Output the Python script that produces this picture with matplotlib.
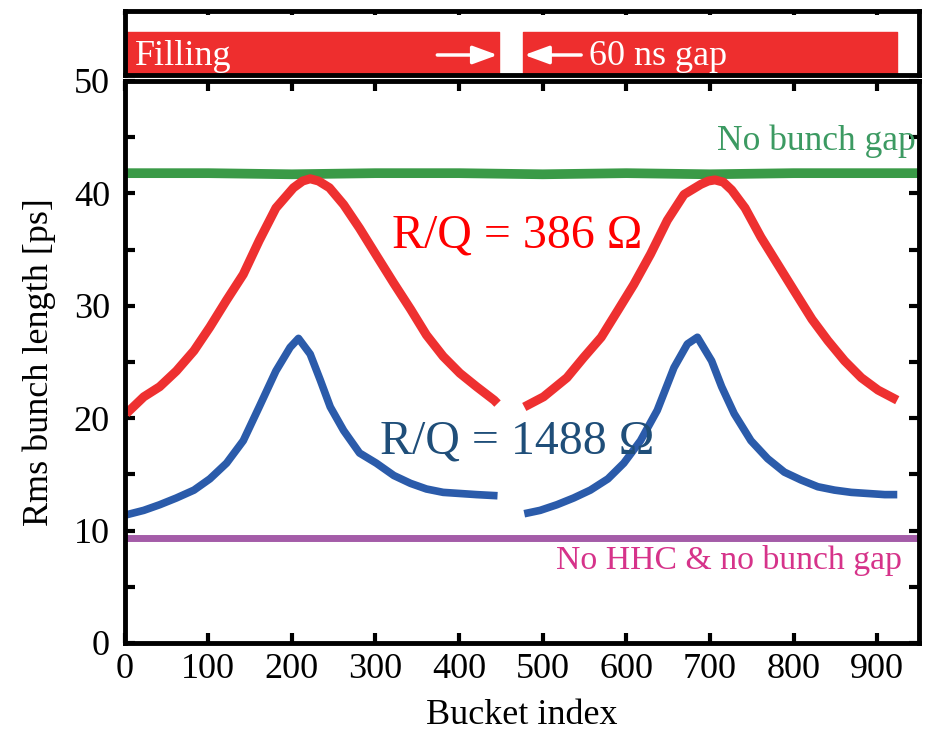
import numpy as np
import matplotlib.pyplot as plt

plt.rcParams['font.family'] = ['Liberation Serif', 'DejaVu Serif']

# ---- data ----
# R/Q = 386 Ohm (red), two bunch trains with a gap in between
red_left_x = [2, 23, 42, 62, 83, 102, 122, 142, 161, 181, 202, 213, 222, 232, 245, 262,
              281, 301, 322, 342, 361, 381, 401, 421, 442, 446]
red_left_y = [20.4, 21.9, 22.8, 24.2, 26.0, 28.1, 30.5, 32.8, 35.8, 38.7, 40.5, 41.1,
              41.3, 41.1, 40.5, 39.0, 36.9, 34.5, 32.0, 29.7, 27.4, 25.5, 24.0, 22.8,
              21.6, 21.3]
red_right_x = [478, 501, 529, 549, 570, 590, 609, 629, 649, 669, 689, 698, 706, 716, 726,
               742, 761, 781, 801, 822, 841, 861, 881, 901, 924]
red_right_y = [21.0, 21.9, 23.6, 25.4, 27.2, 29.6, 31.9, 34.6, 37.6, 39.9, 40.8, 41.1,
               41.2, 41.0, 40.3, 38.7, 36.1, 33.7, 31.3, 28.8, 26.9, 25.1, 23.6, 22.5,
               21.6]

# R/Q = 1488 Ohm (blue)
blue_left_x = [2, 23, 42, 62, 83, 102, 122, 142, 161, 181, 198, 208, 222, 234, 246,
               262, 281, 301, 322, 342, 361, 381, 401, 421, 446]
blue_left_y = [11.4, 11.8, 12.3, 12.9, 13.6, 14.6, 16.0, 18.0, 21.0, 24.2, 26.3, 27.1,
               25.7, 23.4, 21.0, 18.9, 16.9, 16.0, 14.9, 14.2, 13.7, 13.4, 13.3, 13.2, 13.1]
blue_right_x = [478, 497, 517, 537, 557, 578, 597, 617, 637, 657, 673, 685, 702, 714,
                729, 749, 769, 789, 809, 829, 849, 869, 889, 909, 924]
blue_right_y = [11.5, 11.8, 12.3, 12.9, 13.6, 14.6, 16.0, 18.0, 20.7, 24.5, 26.6, 27.2,
                25.1, 22.8, 20.4, 18.0, 16.4, 15.2, 14.5, 13.9, 13.6, 13.4, 13.3, 13.2, 13.2]

# flat references
flat_x = [0, 100, 200, 300, 400, 500, 600, 700, 800, 900, 950]
green_y = [41.8, 41.8, 41.7, 41.8, 41.8, 41.7, 41.8, 41.7, 41.8, 41.8, 41.8]   # no bunch gap
purple_y = [9.3, 9.3, 9.3, 9.3, 9.3, 9.3, 9.3, 9.3, 9.3, 9.3, 9.3]            # no HHC & no gap

# filling pattern (bucket start, length)
fill_start = [0, 476]
fill_len = [448, 448]

red = '#ee3030'
green = '#3a9a47'
blue = '#2b5baa'
purple = '#a45ca8'

fig = plt.figure(figsize=(9.35, 7.35), dpi=100)
ax = fig.add_axes([0.1332, 0.1252, 0.8497, 0.7646])
ax_top = fig.add_axes([0.1332, 0.898, 0.8497, 0.0877])

# main panel
ax.plot(flat_x, green_y, color=green, lw=7, solid_capstyle='butt')
ax.plot(flat_x, purple_y, color=purple, lw=5, solid_capstyle='butt')
ax.plot(red_left_x, red_left_y, color=red, lw=6.5, solid_capstyle='butt')
ax.plot(red_right_x, red_right_y, color=red, lw=6.5, solid_capstyle='butt')
ax.plot(blue_left_x, blue_left_y, color=blue, lw=5.5, solid_capstyle='butt')
ax.plot(blue_right_x, blue_right_y, color=blue, lw=5.5, solid_capstyle='butt')

ax.text(320, 35.2, 'R/Q = 386 Ω', color='#ff0000', fontsize=34.5, ha='left', va='baseline')
ax.text(306, 16.85, 'R/Q = 1488 Ω', color='#1f4e79', fontsize=34.5, ha='left', va='baseline')
ax.text(946, 43.9, 'No bunch gap', color='#3c9a62', fontsize=25.5, ha='right', va='baseline')
ax.text(929, 6.6, 'No HHC & no bunch gap', color='#d6338a', fontsize=24.3,
        ha='right', va='baseline')

ax.set_xlim(0, 950)
ax.set_ylim(0, 50)
ax.set_xticks(range(0, 901, 100))
ax.set_yticks(range(0, 51, 5), [str(v) if v % 10 == 0 else '' for v in range(0, 51, 5)])
ax.tick_params(axis='both', direction='in', top=True, right=True, length=7, width=3,
               labelsize=26)
ax.tick_params(axis='x', pad=7.5)
ax.tick_params(axis='y', pad=10.5)
ax.set_xlabel('Bucket index', fontsize=26, labelpad=9)
ax.set_ylabel('Rms bunch length [ps]', fontsize=26, labelpad=12.5)
for s in ax.spines.values():
    s.set_linewidth(3.5)

# filling pattern strip
ax_top.broken_barh(list(zip(fill_start, fill_len)), (0, 0.67), color='#ee2e2e')
ax_top.annotate('', xy=(446, 0.31), xytext=(374, 0.31),
                arrowprops=dict(arrowstyle='-|>,head_length=0.6,head_width=0.22',
                                color='white', lw=2.5, mutation_scale=25,
                                shrinkA=0, shrinkB=0))
ax_top.annotate('', xy=(478, 0.31), xytext=(546, 0.31),
                arrowprops=dict(arrowstyle='-|>,head_length=0.6,head_width=0.22',
                                color='white', lw=2.5, mutation_scale=25,
                                shrinkA=0, shrinkB=0))
ax_top.text(12, 0.155, 'Filling', color='white', fontsize=26, ha='left', va='baseline')
ax_top.text(555, 0.155, '60 ns gap', color='white', fontsize=26, ha='left', va='baseline')
ax_top.set_xlim(0, 950)
ax_top.set_ylim(0, 1)
ax_top.set_xticks(range(0, 901, 100))
ax_top.set_yticks([])
ax_top.tick_params(axis='x', direction='in', top=True, bottom=False, length=3, width=3,
                   labelbottom=False)
for s in ax_top.spines.values():
    s.set_linewidth(3.5)

fig.savefig('out.png', dpi=100)
